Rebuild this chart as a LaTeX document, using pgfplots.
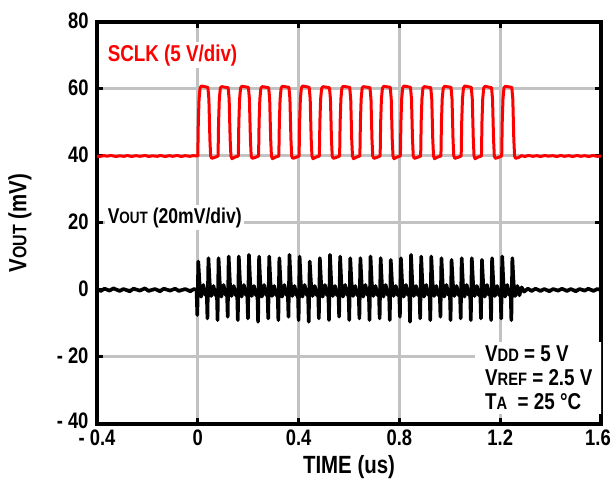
\documentclass[border=0pt]{standalone}
\usepackage{fontspec}
\setmainfont{Liberation Sans}[FakeStretch=0.82]
\usepackage{pgfplots}
\pgfplotsset{compat=1.18}
\newcommand\fs{\bfseries\fontsize{23}{24}\selectfont}
\newcommand\fv{\bfseries\fontsize{21.5}{24}\selectfont}
\newcommand\ft{\bfseries\fontsize{22.5}{24}\selectfont}
\newcommand\fl{\bfseries\fontsize{25}{27}\selectfont}
\newcommand\sm[1]{{\fontsize{18}{18}\selectfont #1}}
\newcommand\smv[1]{{\fontsize{16.5}{16.5}\selectfont #1}}
\newcommand\smL[1]{{\fontsize{19.5}{19.5}\selectfont #1}}
\definecolor{gridgray}{RGB}{194,194,194}
\begin{document}
\begin{tikzpicture}
\begin{axis}[
  scale only axis, width=504bp, height=402bp,
  xmin=-0.4, xmax=1.6, ymin=-40, ymax=80,
  xtick={-0.4,0,0.4,0.8,1.2,1.6}, xticklabels={- 0.4,0,0.4,0.8,1.2,{1.6\hspace*{6bp}}},
  ytick={-40,-20,0,20,40,60,80}, yticklabels={{\raisebox{4bp}{- 40}},- 20,0,20,40,60,80},
  grid=major, major grid style={gridgray, line width=3bp},
  tick align=inside, major tick length=6bp,
  tick style={black, line width=3bp},
  axis line style={black, line width=3.5bp},
  ticklabel style={font=\ft},
  yticklabel style={xshift=-5bp, yshift=1bp},
  xticklabel style={yshift=-2.5bp},
  xlabel={TIME (us)}, ylabel={V\smL{OUT} (mV)},
  label style={font=\fl},
  xlabel style={at={(axis description cs:0.5,0)}, anchor=center, yshift=-43bp},
  ylabel style={at={(axis description cs:-0.153,0.5)}, anchor=center},
  clip=true,
]
% SCLK (red)
\addplot[red, line width=3bp, line join=round, mark=none] coordinates {
(-0.4,40) (-0.39,39.85) (-0.372,40.1) (-0.36,39.95) (-0.345,40.15) (-0.325,39.85) (-0.31,40.05) (-0.292,39.9) (-0.28,40.15) (-0.262,39.85) (-0.245,40.1) (-0.23,39.9) (-0.208,40.15) (-0.195,39.85) (-0.18,40.05) (-0.16,39.9) (-0.148,40.15) (-0.13,39.85) (-0.112,40.1) (-0.1,39.9) (-0.082,40.15) (-0.065,39.85) (-0.05,40.1) (-0.032,39.9) (-0.018,40.1) (-0.002,40)
(0,40) (0.002,50) (0.005,57) (0.009,60.3) (0.014,60.9) (0.040,60.5) (0.044,57) (0.048,45) (0.051,40) (0.055,39.3) (0.068,39.6)
(0.0804,40) (0.0824,50) (0.0854,57) (0.0894,60.3) (0.0944,60.7) (0.1204,60.4) (0.1244,57) (0.1284,45) (0.1314,40) (0.1354,39.2) (0.1484,39.7)
(0.1608,40) (0.1628,50) (0.1658,57) (0.1698,60.3) (0.1748,60.8) (0.2008,60.5) (0.2048,57) (0.2088,45) (0.2118,40) (0.2158,39.3) (0.2288,39.6)
(0.2412,40) (0.2432,50) (0.2462,57) (0.2502,60.2) (0.2552,60.7) (0.2812,60.4) (0.2852,57) (0.2892,45) (0.2922,40) (0.2962,39.2) (0.3092,39.7)
(0.3216,40) (0.3236,50) (0.3266,57) (0.3306,60.3) (0.3356,60.8) (0.3616,60.5) (0.3656,57) (0.3696,45) (0.3726,40) (0.3766,39.3) (0.3896,39.6)
(0.402,40) (0.404,50) (0.407,57) (0.411,60.3) (0.416,60.9) (0.442,60.5) (0.446,57) (0.450,45) (0.453,40) (0.457,39.2) (0.470,39.7)
(0.4824,40) (0.4844,50) (0.4874,57) (0.4914,60.2) (0.4964,60.7) (0.5224,60.4) (0.5264,57) (0.5304,45) (0.5334,40) (0.5374,39.3) (0.5504,39.6)
(0.5628,40) (0.5648,50) (0.5678,57) (0.5718,60.3) (0.5768,60.8) (0.6028,60.5) (0.6068,57) (0.6108,45) (0.6138,40) (0.6178,39.2) (0.6308,39.7)
(0.6432,40) (0.6452,50) (0.6482,57) (0.6522,60.3) (0.6572,60.7) (0.6832,60.4) (0.6872,57) (0.6912,45) (0.6942,40) (0.6982,39.3) (0.7112,39.6)
(0.7236,40) (0.7256,50) (0.7286,57) (0.7326,60.2) (0.7376,60.8) (0.7636,60.5) (0.7676,57) (0.7716,45) (0.7746,40) (0.7786,39.2) (0.7916,39.7)
(0.804,40) (0.806,50) (0.809,57) (0.813,60.3) (0.818,60.9) (0.844,60.5) (0.848,57) (0.852,45) (0.855,40) (0.859,39.3) (0.872,39.6)
(0.8844,40) (0.8864,50) (0.8894,57) (0.8934,60.3) (0.8984,60.7) (0.9244,60.4) (0.9284,57) (0.9324,45) (0.9354,40) (0.9394,39.2) (0.9524,39.7)
(0.9648,40) (0.9668,50) (0.9698,57) (0.9738,60.2) (0.9788,60.8) (1.0048,60.5) (1.0088,57) (1.0128,45) (1.0158,40) (1.0198,39.3) (1.0328,39.6)
(1.0452,40) (1.0472,50) (1.0502,57) (1.0542,60.3) (1.0592,60.9) (1.0852,60.5) (1.0892,57) (1.0932,45) (1.0962,40) (1.1002,39.2) (1.1132,39.7)
(1.1256,40) (1.1276,50) (1.1306,57) (1.1346,60.3) (1.1396,60.8) (1.1656,60.4) (1.1696,57) (1.1736,45) (1.1766,40) (1.1806,39.3) (1.1936,39.6)
(1.206,40) (1.208,50) (1.211,57) (1.215,60.3) (1.220,60.8) (1.246,60.5) (1.250,57) (1.254,45) (1.257,40) (1.261,39.3) (1.274,39.6)
(1.285,40.1) (1.298,39.85) (1.312,40.15) (1.33,39.9) (1.345,40.1) (1.36,39.85) (1.378,40.15) (1.39,39.95) (1.408,40.1) (1.425,39.85) (1.44,40.15) (1.455,39.9) (1.472,40.1) (1.488,39.85) (1.505,40.15) (1.52,39.9) (1.535,40.1) (1.552,39.85) (1.568,40.15) (1.585,39.9) (1.6,40)
};
% VOUT (black)
\addplot[black, line width=3.6bp, line join=round, mark=none] coordinates {
(-0.4,0.3) (-0.385,-0.3) (-0.37,0.4) (-0.35,-0.2) (-0.335,0.5) (-0.31,-0.3) (-0.295,0.3) (-0.27,-0.4) (-0.255,0.4) (-0.23,-0.2) (-0.21,0.5) (-0.195,-0.3) (-0.17,0.3) (-0.15,-0.4) (-0.135,0.4) (-0.11,-0.2) (-0.09,0.4) (-0.075,-0.3) (-0.05,0.3) (-0.03,-0.4) (-0.015,0.3)
(-0.005,0) (-0.002,-7.5) (0.002,8.5) (0.007,1.8) (0.013,-2) (0.022,1.5) (0.030,-1.5)
(0.0352,0) (0.0382,-8.5) (0.0422,9.5) (0.0472,2) (0.0532,-1.8) (0.0622,1.2) (0.0702,-1.6)
(0.0754,0) (0.0784,-9) (0.0824,9.5) (0.0874,1.8) (0.0934,-2) (0.1024,1.5) (0.1104,-1.5)
(0.1156,0) (0.1186,-8) (0.1226,10) (0.1276,2) (0.1336,-1.8) (0.1426,1.2) (0.1506,-1.6)
(0.1558,0) (0.1588,-9) (0.1628,10) (0.1678,1.8) (0.1738,-2) (0.1828,1.5) (0.1908,-1.5)
(0.196,0) (0.199,-8.5) (0.203,10.5) (0.208,2) (0.214,-1.8) (0.223,1.2) (0.231,-1.6)
(0.2362,0) (0.2392,-9.5) (0.2432,10) (0.2482,1.8) (0.2542,-2) (0.2632,1.5) (0.2712,-1.5)
(0.2764,0) (0.2794,-8.5) (0.2834,10) (0.2884,2) (0.2944,-1.8) (0.3034,1.2) (0.3114,-1.6)
(0.3166,0) (0.3196,-9) (0.3236,9.5) (0.3286,1.8) (0.3346,-2) (0.3436,1.5) (0.3516,-1.5)
(0.3568,0) (0.3598,-8) (0.3638,10.5) (0.3688,2) (0.3748,-1.8) (0.3838,1.2) (0.3918,-1.6)
(0.397,0) (0.4,-9) (0.404,10) (0.409,1.8) (0.415,-2) (0.424,1.5) (0.432,-1.5)
(0.4372,0) (0.4402,-9.5) (0.4442,8.5) (0.4492,2) (0.4552,-1.8) (0.4642,1.2) (0.4722,-1.6)
(0.4774,0) (0.4804,-8.5) (0.4844,9.5) (0.4894,1.8) (0.4954,-2) (0.5044,1.5) (0.5124,-1.5)
(0.5176,0) (0.5206,-9) (0.5246,10.5) (0.5296,2) (0.5356,-1.8) (0.5446,1.2) (0.5526,-1.6)
(0.5578,0) (0.5608,-8) (0.5648,10) (0.5698,1.8) (0.5758,-2) (0.5848,1.5) (0.5928,-1.5)
(0.598,0) (0.601,-9) (0.605,9.5) (0.610,2) (0.616,-1.8) (0.625,1.2) (0.633,-1.6)
(0.6382,0) (0.6412,-8.5) (0.6452,9.5) (0.6502,1.8) (0.6562,-2) (0.6652,1.5) (0.6732,-1.5)
(0.6784,0) (0.6814,-9) (0.6854,10) (0.6904,2) (0.6964,-1.8) (0.7054,1.2) (0.7134,-1.6)
(0.7186,0) (0.7216,-8.5) (0.7256,9.5) (0.7306,1.8) (0.7366,-2) (0.7456,1.5) (0.7536,-1.5)
(0.7588,0) (0.7618,-9) (0.7658,9) (0.7708,2) (0.7768,-1.8) (0.7858,1.2) (0.7938,-1.6)
(0.799,0) (0.802,-8) (0.806,9.5) (0.811,1.8) (0.817,-2) (0.826,1.5) (0.834,-1.5)
(0.8392,0) (0.8422,-9.5) (0.8462,10.5) (0.8512,2) (0.8572,-1.8) (0.8662,1.2) (0.8742,-1.6)
(0.8794,0) (0.8824,-8.5) (0.8864,10) (0.8914,1.8) (0.8974,-2) (0.9064,1.5) (0.9144,-1.5)
(0.9196,0) (0.9226,-9) (0.9266,10) (0.9316,2) (0.9376,-1.8) (0.9466,1.2) (0.9546,-1.6)
(0.9598,0) (0.9628,-8) (0.9668,9.5) (0.9718,1.8) (0.9778,-2) (0.9868,1.5) (0.9948,-1.5)
(1.000,0) (1.003,-9) (1.007,9) (1.012,2) (1.018,-1.8) (1.027,1.2) (1.035,-1.6)
(1.0402,0) (1.0432,-8.5) (1.0472,9.5) (1.0522,1.8) (1.0582,-2) (1.0672,1.5) (1.0752,-1.5)
(1.0804,0) (1.0834,-9) (1.0874,9.5) (1.0924,2) (1.0984,-1.8) (1.1074,1.2) (1.1154,-1.6)
(1.1206,0) (1.1236,-8.5) (1.1276,9) (1.1326,1.8) (1.1386,-2) (1.1476,1.5) (1.1556,-1.5)
(1.1608,0) (1.1638,-9) (1.1678,9.5) (1.1728,2) (1.1788,-1.8) (1.1878,1.2) (1.1958,-1.6)
(1.201,0) (1.204,-8.5) (1.208,10) (1.213,1.8) (1.219,-2) (1.228,1.5) (1.236,-1.5)
(1.2412,0) (1.2442,-9) (1.2482,9.5) (1.2532,2) (1.2592,-1.8) (1.2682,1.2) (1.2762,-1.6)
(1.285,0.8) (1.295,-0.5) (1.31,0.4) (1.325,-0.3) (1.34,0.4) (1.36,-0.3) (1.375,0.3) (1.395,-0.4) (1.41,0.3) (1.43,-0.2) (1.445,0.4) (1.465,-0.3) (1.48,0.3) (1.50,-0.4) (1.515,0.3) (1.535,-0.2) (1.55,0.4) (1.57,-0.3) (1.585,0.3) (1.6,0)
};
\node[anchor=west, fill=white, inner sep=2bp, text=red, font=\fs] at (axis cs:-0.366,70.1) {SCLK (5 V/div)};
\node[anchor=west, fill=white, inner sep=2.5bp, font=\fv] at (axis cs:-0.368,21.6) {V\smv{OUT} (20mV/div)};
\node[anchor=north west, fill=white, inner xsep=10bp, inner ysep=4bp, align=left, font=\fs] at (axis cs:1.10,-15.5) {V\sm{DD} = 5 V\\V\sm{REF} = 2.5 V\\T\sm{A}\ \ = 25 °C};
\end{axis}
\pgfresetboundingbox
\path ([xshift=-97bp,yshift=-61bp]current axis.south west) rectangle ([xshift=11bp,yshift=22bp]current axis.north east);
\end{tikzpicture}
\end{document}
